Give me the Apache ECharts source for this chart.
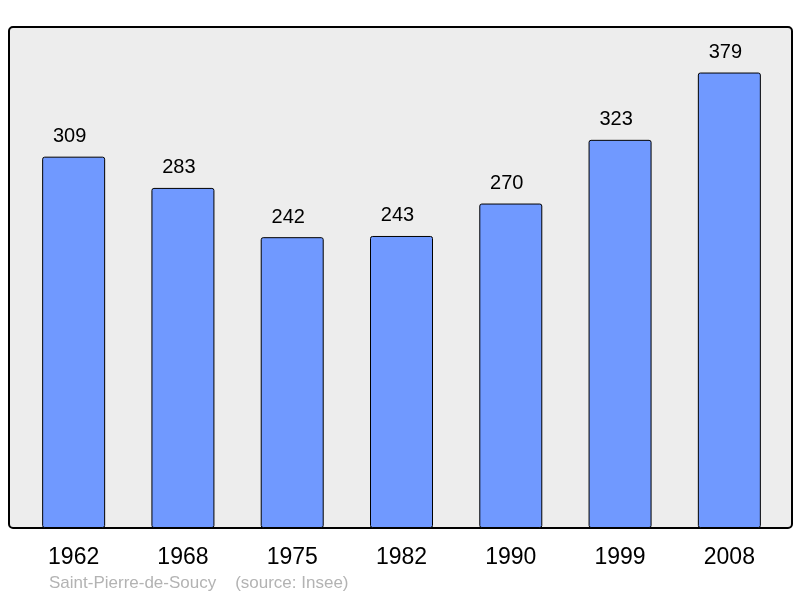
<!DOCTYPE html>
<html>
<head>
<meta charset="utf-8">
<script src="https://cdn.jsdelivr.net/npm/echarts@6/dist/echarts.min.js"></script>
<style>html,body{margin:0;padding:0;background:#fff;}#c{width:800px;height:598px;}</style>
</head>
<body>
<div id="c"></div>
<script>
const categories = ['1962', '1968', '1975', '1982', '1990', '1999', '2008'];
const population = [309, 283, 242, 243, 270, 323, 379];
const footer = 'Saint-Pierre-de-Soucy    (source: Insee)';

const chart = echarts.init(document.getElementById('c'));
chart.setOption({
  animation: false,
  backgroundColor: '#ffffff',
  title: {
    text: footer,
    left: 49, top: 575, padding: 0,
    textStyle: { color: '#b3b3b3', fontSize: 17, fontWeight: 'normal', fontFamily: 'Liberation Sans' }
  },
  graphic: [{
    type: 'rect', z: -10, silent: true,
    shape: { x: 9, y: 27, width: 783, height: 501, r: 4 },
    style: { fill: '#ededed', stroke: '#000', lineWidth: 2 }
  }],
  grid: { left: 19, right: 16, top: 27, bottom: 70 },
  xAxis: {
    type: 'category', data: categories,
    axisLine: { show: false }, axisTick: { show: false },
    axisLabel: { fontSize: 23, color: '#000', margin: 18, fontFamily: 'Liberation Sans' }
  },
  yAxis: {
    type: 'value', min: 0, max: 416.9, show: false, splitLine: { show: false }
  },
  series: [{
    type: 'bar', data: population, barWidth: 63,
    itemStyle: { color: '#7099ff', borderColor: '#000', borderWidth: 1, borderRadius: 2 },
    label: { show: true, position: 'top', distance: 10, offset: [-4, 0], fontSize: 20, color: '#000', fontFamily: 'Liberation Sans' }
  }]
});
</script>
</body>
</html>
